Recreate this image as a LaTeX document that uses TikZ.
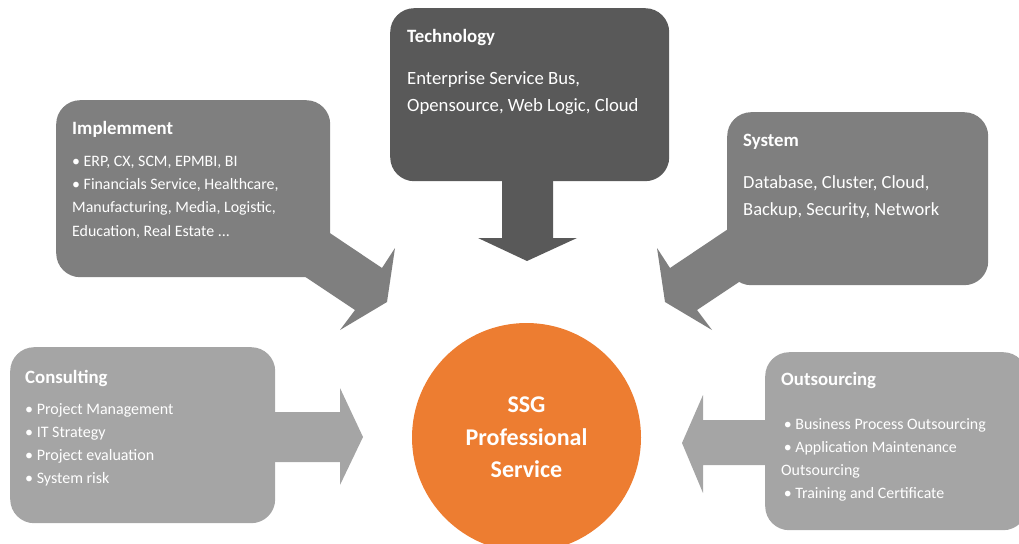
\documentclass[tikz,border=0pt]{standalone}
\usepackage{fontspec}
\setmainfont{Carlito}
\usetikzlibrary{calc,positioning}
\definecolor{darkgray59}{RGB}{89,89,89}
\definecolor{midgray7f}{RGB}{127,127,127}
\definecolor{lightgraya5}{RGB}{165,165,165}
\definecolor{ssgorange}{RGB}{237,125,49}
\begin{document}
\begin{tikzpicture}[x=1pt, y=-1pt,
    box/.style={rounded corners=24pt, anchor=north west, inner sep=0pt},
    title/.style={text=white, anchor=base west, inner sep=0pt,
                  font=\fontsize{18.8}{22}\selectfont\bfseries},
    % a multi-line node sits on the baseline of its last line
    body/.style={text=white, anchor=base west, inner sep=0pt, align=left}]
  \useasboundingbox (0,0) rectangle (1019,543);
  % callout boxes
  \node [box, fill=darkgray59, minimum width=279pt, minimum height=173pt]
        (tech) at (390,8) {};
  \node [box, fill=midgray7f, minimum width=274pt, minimum height=177pt]
        (impl) at (56,100) {};
  \node [box, fill=midgray7f, minimum width=261pt, minimum height=173pt]
        (sys) at (727,112) {};
  \node [box, fill=lightgraya5, minimum width=265pt, minimum height=176pt]
        (cons) at (10,347) {};
  \node [box, fill=lightgraya5, minimum width=262pt, minimum height=178pt]
        (outs) at (765,352) {};
  % arrow parts of the callouts
  \fill [darkgray59] (502,150) -- (553,150) -- (553,238) -- (577,238)
        -- (527,261) -- (478,238) -- (502,238) -- cycle;
  \fill [midgray7f] (300,213) -- (382,268) -- (395,248) -- (387,302)
        -- (340,330) -- (355,310) -- (277,258) -- cycle;
  \fill [midgray7f] (752,213) -- (670,268) -- (657,248) -- (665,302)
        -- (712,330) -- (697,310) -- (775,258) -- cycle;
  \fill [lightgraya5] (250,412) -- (340,412) -- (340,388) -- (363,437)
        -- (340,485) -- (340,462) -- (250,462) -- cycle;
  \fill [lightgraya5] (790,420) -- (703,420) -- (703,395) -- (682,443)
        -- (703,493) -- (703,465) -- (790,465) -- cycle;
  % centre
  \node [circle, fill=ssgorange, minimum size=229pt, inner sep=0pt,
         text=white, align=center,
         font=\fontsize{24}{32.5}\selectfont\bfseries]
        (ssg) at (526.5,437.5) {SSG\\Professional\\Service};
  % texts
  \node [title] (techtitle) at (407,43) {Technology};
  \node [body, font=\fontsize{18.7}{27}\selectfont] (techtext) at (407,111)
        {Enterprise Service Bus,\\Opensource, Web Logic, Cloud};
  \node [title] (impltitle) at (72,134) {Implemment};
  \node [body, font=\fontsize{15.9}{23.3}\selectfont] (impltext) at (72,236)
        {• ERP, CX, SCM, EPMBI, BI\\• Financials Service, Healthcare,\\
         Manufacturing, Media, Logistic,\\Education, Real Estate ...};
  \node [title] (systitle) at (743,146) {System};
  \node [body, font=\fontsize{18.5}{27}\selectfont] (systext) at (743,215)
        {Database, Cluster, Cloud,\\Backup, Security, Network};
  \node [title] (constitle) at (25,383) {Consulting};
  \node [body, font=\fontsize{16}{23}\selectfont] (constext) at (25,483)
        {• Project Management\\• IT Strategy\\• Project evaluation\\
         • System risk};
  \node [title] (outstitle) at (781,385) {Outsourcing};
  \node [body, font=\fontsize{15.9}{22.7}\selectfont] (outstext) at (781,498)
        {\,• Business Process Outsourcing\\\,• Application Maintenance\\
         Outsourcing\\\,• Training and Certificate};
\end{tikzpicture}
\end{document}
